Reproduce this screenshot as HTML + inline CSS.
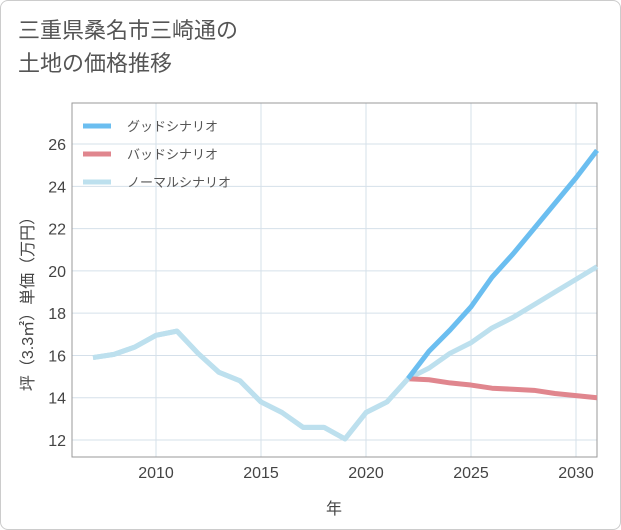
<!DOCTYPE html>
<html><head><meta charset="utf-8"><style>
body{margin:0;background:#fff;font-family:"Liberation Sans","Noto Sans CJK JP",sans-serif;}
#card{position:absolute;left:0;top:0;width:619px;height:528px;border:1px solid #ccc;border-radius:8px;background:#fff;}
#title{position:absolute;left:18px;top:14px;font-size:22px;line-height:33px;color:#555;}
</style></head><body>
<div id="card"></div>
<div id="title">三重県桑名市三崎通の<br>土地の価格推移</div>
<svg id="chart" width="621" height="530" style="position:absolute;left:0;top:0"></svg>
<script>
const years=[2007,2008,2009,2010,2011,2012,2013,2014,2015,2016,2017,2018,2019,2020,2021,2022,2023,2024,2025,2026,2027,2028,2029,2030,2031];
const normal=[15.9,16.05,16.4,16.95,17.15,16.1,15.2,14.8,13.8,13.3,12.6,12.6,12.05,13.3,13.8,14.9,15.4,16.1,16.6,17.3,17.8,18.4,19.0,19.6,20.2];
const fYears=[2022,2023,2024,2025,2026,2027,2028,2029,2030,2031];
const good=[14.9,16.2,17.2,18.3,19.7,20.8,22.0,23.2,24.4,25.7];
const bad=[14.9,14.85,14.7,14.6,14.45,14.4,14.35,14.2,14.1,14.0];
const xTicks=[2010,2015,2020,2025,2030];
const yTicks=[12,14,16,18,20,22,24,26];
const L=72,R=597,T=103,B=457;
const x=v=>156+(v-2010)*21;
const y=v=>440-(v-12)*21.14;
const svg=document.getElementById('chart');const NS='http://www.w3.org/2000/svg';
function mk(t,a){const e=document.createElementNS(NS,t);for(const k in a)e.setAttribute(k,a[k]);svg.appendChild(e);return e;}
xTicks.forEach(t=>{const g=mk('line',{x1:x(t),x2:x(t),y1:T,y2:B,stroke:'#d5e0ea','stroke-width':1});

const l=mk('text',{x:x(t),y:478,'text-anchor':'middle','font-size':16,fill:'#444'});l.textContent=t;
});
yTicks.forEach(t=>{const g=mk('line',{x1:L,x2:R,y1:y(t),y2:y(t),stroke:'#d5e0ea','stroke-width':1});

const l=mk('text',{x:66,y:y(t)+6,'text-anchor':'end','font-size':16,fill:'#444'});l.textContent=t;
});
const fr=mk('rect',{x:L,y:T,width:R-L,height:B-T,fill:'none',stroke:'#999','stroke-width':1});

function line(xs,vs,c,n){const p=mk('polyline',{points:xs.map((v,i)=>x(v)+','+y(vs[i])).join(' '),fill:'none',stroke:c,'stroke-width':5,'stroke-linejoin':'round'});
}
line(years,normal,'#bde0ee','normal-line');
line(fYears,bad,'#e0868e','bad-line');
line(fYears,good,'#6bbef0','good-line');
line(years.slice(0,16),normal.slice(0,16),'#bde0ee','normal-line-past');
const leg=[['グッドシナリオ','#6bbef0'],['バッドシナリオ','#e0868e'],['ノーマルシナリオ','#bde0ee']];
leg.forEach((d,i)=>{const yy=126+i*28;const s=mk('line',{x1:83,x2:111,y1:yy,y2:yy,stroke:d[1],'stroke-width':5});

const t=mk('text',{x:127,y:yy+5,'font-size':13,fill:'#555'});t.textContent=d[0];
});
const xt=mk('text',{x:334,y:514,'text-anchor':'middle','font-size':16,fill:'#444'});xt.textContent='年';

const yt=mk('text',{x:0,y:0,'text-anchor':'middle','font-size':16,fill:'#444',transform:'translate(33,300) rotate(-90)'});yt.textContent='坪（3.3㎡）単価（万円）';

</script>
</body></html>
